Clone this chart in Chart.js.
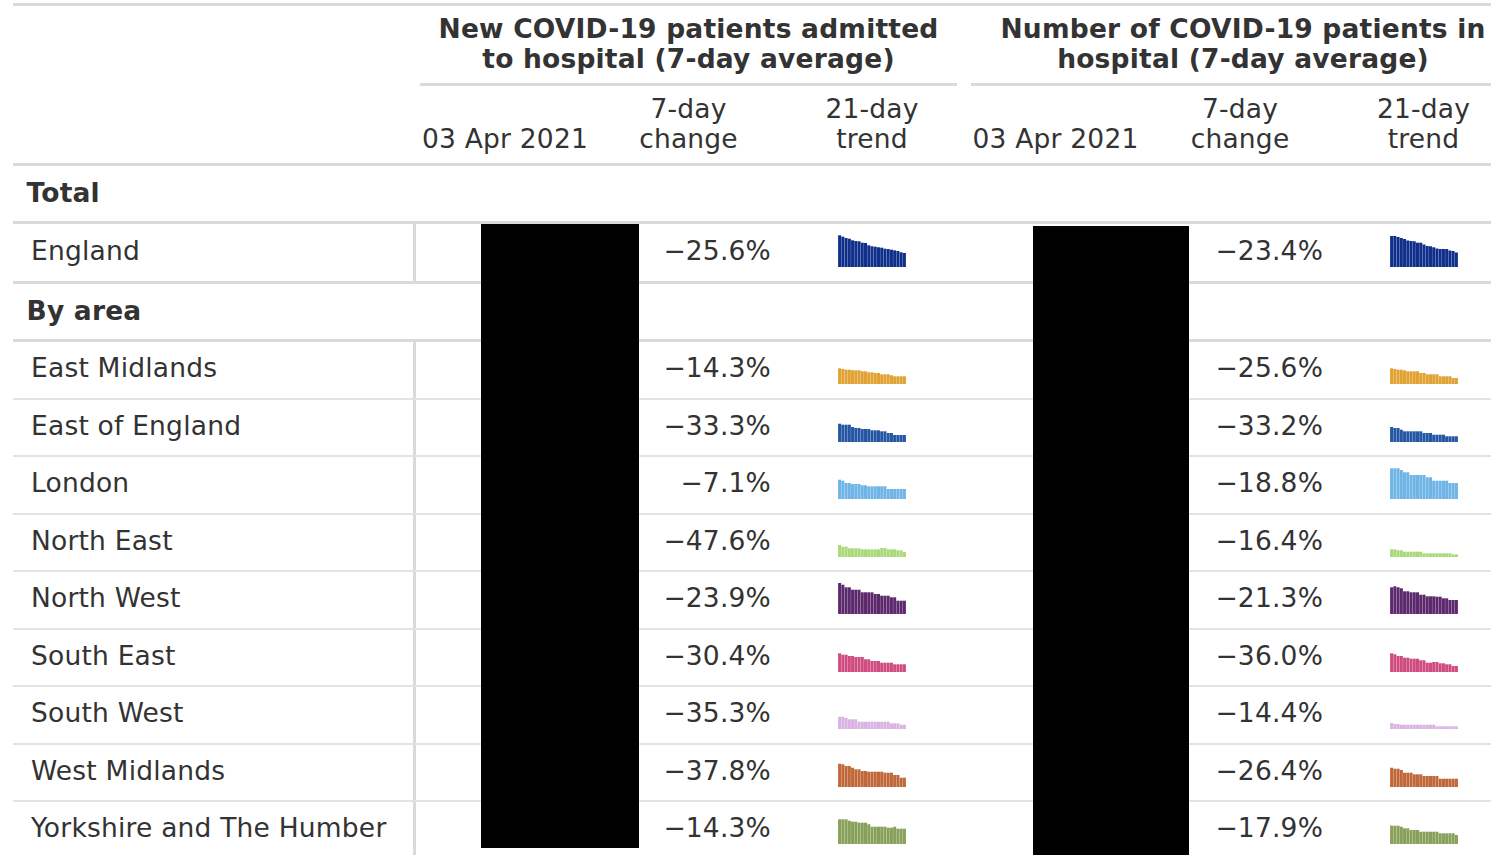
<!DOCTYPE html>
<html>
<head>
<meta charset="utf-8">
<script src="https://cdn.jsdelivr.net/npm/chart.js@4.4.1/dist/chart.umd.min.js"></script>
<style>
html, body { margin: 0; padding: 0; background: #fff; overflow: hidden; }
body { width: 1491px; height: 855px; position: relative; font-family: "DejaVu Sans", sans-serif; color: #333; }
#wrap { position: absolute; left: 13px; top: 3px; }
table { border-collapse: separate; border-spacing: 0; table-layout: fixed; width: 1509px; font-size: 26.5px; letter-spacing: 0.2px; }
td, th { padding: 0; font-weight: normal; }
.top td, .top th { border-top: 3px solid #dadada; }
.grp { font-weight: bold; text-align: center; line-height: 30px; }
.grp .t { padding: 8px 0 9px 0; }
.grp .u { margin: 0 7px; border-bottom: 3px solid #dadada; }
.sub td { border-bottom: 3px solid #dadada; vertical-align: bottom; text-align: center; line-height: 30px; }
.sub .c { padding: 8px 0 9px 0; }
.sec td { border-bottom: 3px solid #dadada; }
.sec .c { box-sizing: border-box; height: 55px; display: flex; align-items: center; padding-left: 13.5px; padding-bottom: 3px; font-weight: bold; }
.row td { border-bottom: 2px solid #e2e2e2; }
.row.eng td { border-bottom: 3px solid #dadada; }
.row .c { box-sizing: border-box; height: 55.5px; display: flex; align-items: center; padding-bottom: 4px; }
.row.eng .c { height: 57px; }
.row .name { padding-left: 18px; }
.row .val { box-shadow: inset 3px 0 0 #dadada; }
.row .pct { justify-content: flex-end; padding-right: 9px; }
.row .pct2 { justify-content: flex-end; padding-right: 10px; }
.row .spark { justify-content: center; padding-bottom: 3px; }
.row .spark2 { justify-content: center; padding-right: 8px; padding-bottom: 3px; }
.spark canvas, .spark2 canvas { display: block; }
.redact { position: absolute; background: #000; }
</style>
</head>
<body>
<div id="wrap">
<table id="tbl">
  <colgroup>
    <col style="width:400px"><col style="width:184px"><col style="width:183px"><col style="width:184px">
    <col style="width:183px"><col style="width:186px"><col style="width:189px">
  </colgroup>
  <tr class="top">
    <td></td>
    <th class="grp" colspan="3"><div class="u"><div class="t">New COVID-19 patients admitted<br>to hospital (7-day average)</div></div></th>
    <th class="grp" colspan="3"><div class="u"><div class="t">Number of COVID-19 patients in<br>hospital (7-day average)</div></div></th>
  </tr>
  <tr class="sub">
    <td></td>
    <td><div class="c">03 Apr 2021</div></td>
    <td><div class="c">7-day<br>change</div></td>
    <td><div class="c">21-day<br>trend</div></td>
    <td><div class="c">03 Apr 2021</div></td>
    <td><div class="c">7-day<br>change</div></td>
    <td><div class="c" style="padding-right:8px">21-day<br>trend</div></td>
  </tr>
</table>
</div>
<div class="redact" style="left:481px; top:224px; width:158px; height:624px"></div>
<div class="redact" style="left:1033px; top:226px; width:156px; height:629px"></div>
<script>
// 21 days up to the reported date
const trendDays = ['14 Mar','15 Mar','16 Mar','17 Mar','18 Mar','19 Mar','20 Mar','21 Mar','22 Mar','23 Mar','24 Mar',
  '25 Mar','26 Mar','27 Mar','28 Mar','29 Mar','30 Mar','31 Mar','01 Apr','02 Apr','03 Apr'];

const areas = ['England', 'East Midlands', 'East of England', 'London', 'North East', 'North West',
  'South East', 'South West', 'West Midlands', 'Yorkshire and The Humber'];

const admissionsChange = ['−25.6%', '−14.3%', '−33.3%', '−7.1%', '−47.6%', '−23.9%', '−30.4%', '−35.3%', '−37.8%', '−14.3%'];
const inHospitalChange = ['−23.4%', '−25.6%', '−33.2%', '−18.8%', '−16.4%', '−21.3%', '−36.0%', '−14.4%', '−26.4%', '−17.9%'];

const areaColours = ['#0f2f8a', '#e0a232', '#2556a3', '#6eb4e6', '#a9d97a', '#5c2a6c',
  '#cf4b80', '#d9b4e2', '#c0683a', '#87a05a'];

// sparkline heights (england and regions share one scale)
const admissionsTrend = [
  [31.7,30.3,29,28.3,26.7,26,25.7,24.3,24,21.7,20.7,20.3,19.7,19.3,18.3,18,17.3,16.7,16,14.7,14],
  [15.7,15,14.3,14.3,13.7,13.7,13.7,12.7,12.7,11.7,11.7,11,11,9.7,9.7,9.7,8.7,7.7,7.7,7.7,7.7],
  [18.3,17.3,17.3,17.3,15,14,14,13,13,13,11.7,11.7,11.7,10.7,10.7,9,9,7,7,7,7],
  [19.3,18.3,16,16,15,15,15,13.7,13.7,12.7,12.7,12.7,12.7,12.7,12.7,10,10,10,10,10,10],
  [12,10.3,10.3,8.7,8.7,8.7,8.7,7.7,7.7,7.7,7.7,7.7,7.7,9,9,7.7,7.7,7.7,6.7,6.7,5],
  [31,29.3,26.7,26.7,24.3,24.3,24.3,21.7,21.7,21.7,21.7,20,20,18.3,18.3,18.3,16.7,16.7,13.3,13.3,13.3],
  [18.7,17.3,17.3,16,16,15,15,15,12.7,12.7,11,11,11,9.3,9.3,9.3,9.3,7.7,7.7,7.7,7.7],
  [12.3,12.3,11,9.7,9.7,9.7,7.3,7.3,7.3,7.3,7.3,7.3,7.3,7.3,7.3,7.3,5.7,5.7,5.7,4.3,4.3],
  [23.3,22.7,21,21,19.3,17.7,17.7,16,16,15.3,15.3,15.3,15.3,15.3,14.3,14.3,14.3,12,12,9.3,9.3],
  [24.7,24.7,24.7,23.3,22.3,22.3,21.3,21.3,21.3,19.7,17.3,17.3,17.3,17.3,17.3,16.3,16.3,17.3,15.3,15.3,15.3]
];
const inHospitalTrend = [
  [31,31,30,29,28,26.5,26,25.7,24.3,24.3,22.5,21,20.7,19.7,18.5,18,18,18,16.5,16,14.5],
  [15.7,15,14.3,14.3,13.7,12.7,12.7,12.7,12.7,11,11,9.7,9.7,9.7,9.7,7.7,7.7,7.7,7.7,6,6],
  [15,14,14,12.3,10.7,10.7,10.7,10.7,10.7,10.7,9,9,9,7.3,7.3,7.3,7.3,5.7,5.7,5.7,5.7],
  [30.7,30.7,30.7,29,26.7,26.7,24,24,24,24,24,21.7,21.7,18.3,18.3,18.3,18.3,18.3,16,16,16],
  [7.7,7.7,6.7,6.7,5.3,5.3,5.3,5.3,5.3,5.3,3.7,3.7,3.7,3.7,3.7,3.7,3.7,3.7,3.7,2.7,2.7],
  [26.7,27.7,26.7,25.7,22.7,22.7,21.7,21.7,21.7,19.3,19.3,17.7,17.7,17.7,17.3,17.3,15.7,15.7,14,14,14],
  [18.7,17.7,16,16,14.3,14.3,13.3,13.3,13.3,11.7,11.7,9.3,9.3,10,10,8.7,8.7,7.7,7.7,6,6],
  [6,5,5,4.3,4.3,4.3,4.3,4.3,4.3,4.3,4.3,4.3,4.3,4.3,2.7,2.7,2.7,2.7,2.7,2.7,2.7],
  [19.3,18.3,18.3,17,14.3,14.3,14.3,12.7,12.7,12.7,11,11,11,11,11,8.3,8.3,8.3,8.3,8.3,8.3],
  [18.3,18.3,18.3,17.3,15.7,15.7,14,14,14,12.3,12.3,12.3,12.3,12.3,12.3,10.7,10.7,10.7,10.7,10.7,9]
];
const trendMax = 32;

function sparkline(cell, values, colour) {
  let cv = document.createElement('canvas');
  cv.width = 68;
  cv.height = 32;
  cell.appendChild(cv);
  new Chart(cv, {
    type: 'bar',
    data: {
      labels: trendDays,
      datasets: [{ data: values, backgroundColor: colour, borderWidth: 0, barPercentage: 0.94, categoryPercentage: 1 }]
    },
    options: {
      responsive: false,
      animation: false,
      events: [],
      layout: { padding: 0 },
      plugins: { legend: { display: false }, tooltip: { enabled: false } },
      scales: {
        x: { display: false },
        y: { display: false, min: 0, max: trendMax }
      }
    }
  });
}

function sectionRow(tbl, title) {
  let tr = tbl.insertRow();
  tr.className = 'sec';
  let td = tr.insertCell();
  td.colSpan = 7;
  td.innerHTML = '<div class="c">' + title + '</div>';
}

function areaRow(tbl, i) {
  let tr = tbl.insertRow();
  tr.className = i == 0 ? 'row eng' : 'row';
  let cls = ['name', 'val', 'pct', 'spark', 'blank', 'pct2', 'spark2'];
  let cells = [];
  for (let k = 0; k < 7; k++) {
    let td = tr.insertCell();
    if (k == 1) td.className = 'val';
    let d = document.createElement('div');
    d.className = 'c ' + cls[k];
    td.appendChild(d);
    cells.push(d);
  }
  cells[0].textContent = areas[i];
  cells[2].textContent = admissionsChange[i];
  cells[5].textContent = inHospitalChange[i];
  sparkline(cells[3], admissionsTrend[i], areaColours[i]);
  sparkline(cells[6], inHospitalTrend[i], areaColours[i]);
}

const tbl = document.getElementById('tbl');
sectionRow(tbl, 'Total');
areaRow(tbl, 0);
sectionRow(tbl, 'By area');
for (let i = 1; i < areas.length; i++) {
  areaRow(tbl, i);
}
</script>
</body>
</html>
